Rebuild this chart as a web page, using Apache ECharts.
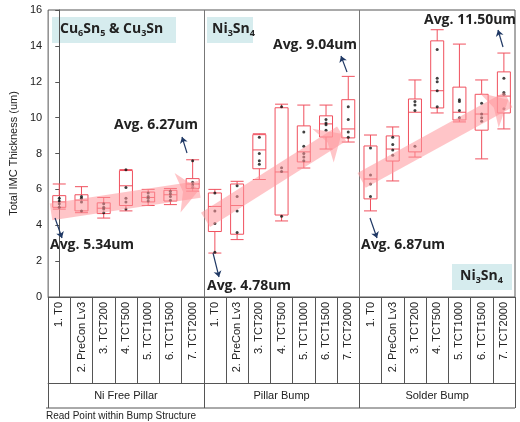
<!DOCTYPE html>
<html>
<head>
<meta charset="utf-8">
<script src="https://cdn.jsdelivr.net/npm/echarts@6/dist/echarts.min.js"></script>
<style>
  html, body { margin: 0; padding: 0; background: #fff; }
  #main { width: 520px; height: 422px; }
</style>
</head>
<body>
<div id="main"></div>
<script>
const readPoints = ['1. T0', '2. PreCon Lv3', '3. TCT200', '4. TCT500', '5. TCT1000', '6. TCT1500', '7. TCT2000'];
const structures = ['Ni Free Pillar', 'Pillar Bump', 'Solder Bump'];

// [min, Q1, median, Q3, max] per read point
const niFreeBox = [
  [4.9, 5.0, 5.3, 5.65, 6.3], [4.7, 4.8, 5.4, 5.7, 6.15], [4.4, 4.65, 4.95, 5.25, 5.55],
  [4.8, 5.1, 6.2, 7.05, 7.1], [5.1, 5.3, 5.55, 5.85, 6.0], [5.15, 5.35, 5.7, 5.95, 6.05],
  [5.9, 6.05, 6.3, 6.6, 7.65]
];
const pillarBox = [
  [2.45, 3.65, 5.05, 5.8, 6.0], [3.2, 3.5, 5.1, 6.3, 6.45], [6.55, 7.15, 8.2, 9.05, 9.1],
  [4.24, 4.57, 6.97, 10.55, 10.75], [7.19, 7.53, 8.09, 9.54, 10.7], [8.25, 8.92, 9.65, 10.1, 10.7],
  [8.64, 8.87, 9.37, 11.0, 12.3]
];
const solderBox = [
  [4.8, 5.47, 6.58, 8.42, 9.03], [6.47, 7.58, 8.25, 8.98, 9.48], [7.8, 8.09, 10.3, 11.04, 12.1],
  [10.26, 10.54, 11.5, 14.28, 14.9], [9.76, 9.87, 10.3, 11.7, 14.1], [7.7, 9.3, 10.2, 11.3, 12.1],
  [9.37, 10.26, 11.2, 12.55, 13.6]
];

// individual readings (black dots)
const readings = [
  [5.0, 5.2, 5.35, 5.5], [4.8, 5.3, 5.5, 5.6], [4.7, 4.9, 5.0, 5.2], [4.9, 5.3, 5.5, 6.1, 7.1],
  [5.35, 5.5, 5.6, 5.8], [5.4, 5.6, 5.75, 5.9], [6.1, 6.25, 6.4, 7.6],
  [2.5, 4.1, 4.8, 5.8], [3.6, 4.8, 5.6, 6.2], [7.4, 7.6, 8.0, 8.9], [4.5, 7.0, 7.2, 10.6],
  [7.6, 7.8, 8.0, 8.4, 9.2], [9.3, 9.6, 9.7, 9.9], [8.9, 9.2, 9.9, 10.6],
  [5.6, 6.3, 6.8, 8.3], [7.9, 8.2, 8.5, 8.9], [8.4, 10.4, 10.7, 10.9], [10.6, 11.5, 12.0, 12.2, 13.8],
  [10.0, 10.4, 10.9, 11.0], [9.8, 10.0, 10.2, 10.8], [10.5, 11.3, 11.4, 12.2]
];

const categories = [];
structures.forEach(s => readPoints.forEach(r => categories.push(r)));
const boxData = niFreeBox.concat(pillarBox, solderBox);
const dots = [];
readings.forEach((list, i) => list.forEach(v => dots.push([i, v])));

// trend arrows: [startIndex, startValue, endIndex, endValue]
const trendArrows = [
  [-0.37, 4.75, 6.3, 6.0],
  [6.58, 4.3, 12.7, 9.1],
  [13.6, 6.5, 20.2, 11.0]
];

const pink = 'rgba(255,150,155,0.55)';
const navy = '#1f3864';
const red = '#f0505e';

function navyArrow(x1, y1, x2, y2) {
  return [{ x: x1, y: y1 }, { x: x2, y: y2 }];
}

const avgText = (t, x, y) => ({
  type: 'text', left: x, top: y,
  style: { text: t, font: 'bold 14px "Open Sans"', fill: '#222' }
});

const chart = echarts.init(document.getElementById('main'));
chart.setOption({
  animation: false,
  grid: { left: 46, right: 5, top: 10, bottom: 125, show: true, borderColor: '#555', borderWidth: 1 },
  xAxis: [
    {
      type: 'category', data: categories, position: 'bottom',
      axisLine: { lineStyle: { color: '#555' } },
      axisTick: { show: true, interval: 0, length: 86, lineStyle: { color: '#555' } },
      axisLabel: { interval: 0, rotate: 90, fontSize: 11, color: '#222', fontFamily: 'Liberation Sans', margin: 5 }
    },
    {
      type: 'category', data: structures, position: 'bottom', offset: 86,
      axisLine: { lineStyle: { color: '#555' } },
      axisTick: { show: true, interval: 0, length: 25, lineStyle: { color: '#555' } },
      axisLabel: { fontSize: 11, color: '#222', fontFamily: 'Liberation Sans', margin: 7 }
    },
    { type: 'value', min: -0.5, max: 20.5, show: false }
  ],
  yAxis: {
    type: 'value', min: 0, max: 16, interval: 2,
    name: 'Total IMC Thickness (um)', nameLocation: 'middle', nameGap: 28,
    nameTextStyle: { fontSize: 11, color: '#222', fontFamily: 'Liberation Sans' },
    axisLine: { show: true, lineStyle: { color: '#555' } },
    axisTick: { show: true, length: 4, lineStyle: { color: '#555' } },
    axisLabel: { fontSize: 11, color: '#222', fontFamily: 'Liberation Sans', margin: 6 },
    splitLine: { show: false }
  },
  series: [
    {
      type: 'scatter', xAxisIndex: 2, data: [], silent: true,
      markLine: {
        silent: true, symbol: ['none', 'none'],
        label: { show: false },
        lineStyle: { color: '#777', width: 1, type: 'solid' },
        data: [
          [{ coord: [6.5, 0] }, { coord: [6.5, 16] }],
          [{ coord: [13.5, 0] }, { coord: [13.5, 16] }]
        ]
      }
    },
    {
      type: 'scatter', xAxisIndex: 2, data: [], silent: true,
      markLine: {
        silent: true, symbol: ['none', 'arrow'], symbolSize: [30, 22],
        label: { show: false },
        lineStyle: { color: pink, width: 17, type: 'solid', opacity: 1 },
        data: trendArrows.map(a => [{ coord: [a[0], a[1]] }, { coord: [a[2], a[3]] }])
      }
    },
    {
      type: 'scatter', xAxisIndex: 2, data: [], silent: true,
      markLine: {
        silent: true, symbol: ['none', 'arrow'], symbolSize: 6,
        label: { show: false },
        lineStyle: { color: navy, width: 1.2, type: 'solid' },
        data: [
          navyArrow(55, 218, 62, 238), navyArrow(187, 153, 182, 137),
          navyArrow(213, 253, 219, 277), navyArrow(347, 72, 341, 56),
          navyArrow(370, 218, 377, 238), navyArrow(503, 47, 498, 30)
        ]
      }
    },
    {
      type: 'boxplot', data: boxData, boxWidth: [13, 13],
      itemStyle: { color: 'rgba(0,0,0,0)', borderColor: red, borderWidth: 1 }
    },
    {
      type: 'scatter', data: dots, symbolSize: 3,
      itemStyle: { color: '#111' }
    }
  ],
  graphic: [
    { type: 'rect', shape: { x: 52, y: 17, width: 124, height: 26 }, style: { fill: '#d6ecee' } },
    { type: 'rect', shape: { x: 207, y: 17, width: 46, height: 26 }, style: { fill: '#d6ecee' } },
    { type: 'rect', shape: { x: 452, y: 264, width: 60, height: 26 }, style: { fill: '#d6ecee' } },
    {
      type: 'text', left: 60, top: 22,
      style: {
        rich: { n: { font: 'bold 14px "Open Sans"', fill: '#222' }, s: { font: 'bold 9px "Open Sans"', fill: '#222', padding: [8, 0, 0, 0] } },
        text: '{n|Cu}{s|6}{n|Sn}{s|5}{n| & Cu}{s|3}{n|Sn}'
      }
    },
    {
      type: 'text', left: 212, top: 22,
      style: {
        rich: { n: { font: 'bold 14px "Open Sans"', fill: '#222' }, s: { font: 'bold 9px "Open Sans"', fill: '#222', padding: [8, 0, 0, 0] } },
        text: '{n|Ni}{s|3}{n|Sn}{s|4}'
      }
    },
    {
      type: 'text', left: 460, top: 269,
      style: {
        rich: { n: { font: 'bold 14px "Open Sans"', fill: '#222' }, s: { font: 'bold 9px "Open Sans"', fill: '#222', padding: [8, 0, 0, 0] } },
        text: '{n|Ni}{s|3}{n|Sn}{s|4}'
      }
    },
    avgText('Avg. 5.34um', 50, 238),
    avgText('Avg. 6.27um', 114, 118),
    avgText('Avg. 4.78um', 207, 279),
    avgText('Avg. 9.04um', 273, 38),
    avgText('Avg. 6.87um', 361, 238),
    avgText('Avg. 11.50um', 424, 13),
    { type: 'line', shape: { x1: 46, y1: 408, x2: 515, y2: 408 }, style: { stroke: '#555', lineWidth: 1 } },
    {
      type: 'text', left: 46, top: 411,
      style: { text: 'Read Point within Bump Structure', font: '10px "Liberation Sans"', fill: '#222' }
    }
  ]
});
</script>
</body>
</html>
